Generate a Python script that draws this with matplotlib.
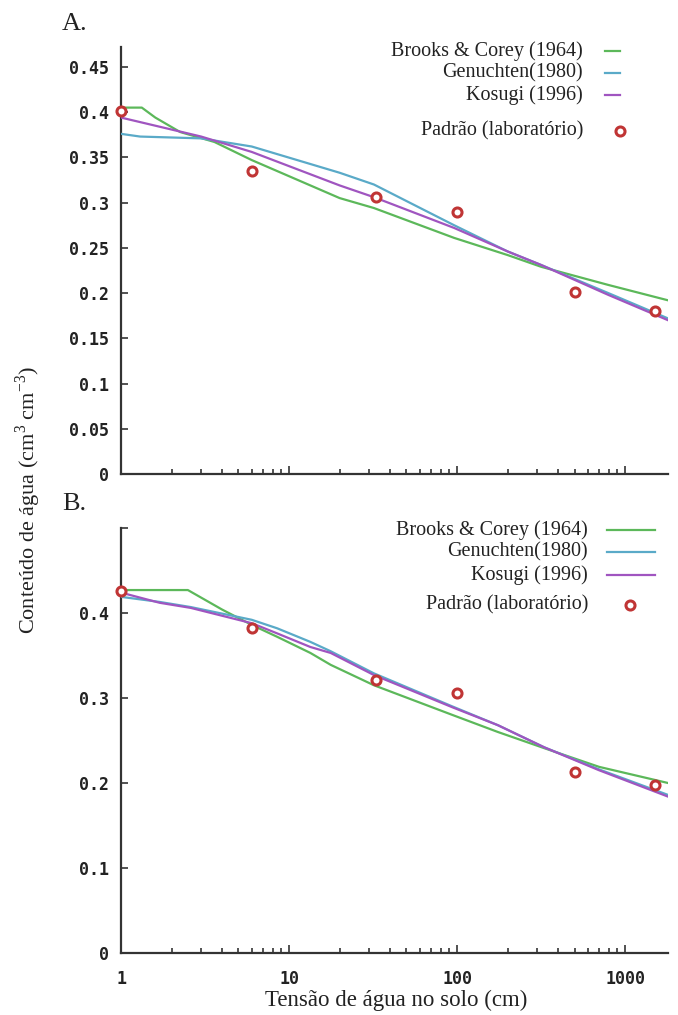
# Curvas de retenção de água no solo: modelos ajustados x dados de laboratório
import matplotlib
matplotlib.use('Agg')
import matplotlib.pyplot as plt
from matplotlib.lines import Line2D
from matplotlib.ticker import FixedLocator, FixedFormatter, LogLocator, NullFormatter

plt.rcParams['font.family'] = ['Liberation Serif', 'DejaVu Serif']
plt.rcParams['mathtext.fontset'] = 'custom'
plt.rcParams['mathtext.rm'] = 'Liberation Serif'

# ---- Painel A ----
tensao_bc_A = [1, 1.33, 1.6, 2.25, 3.6, 6, 20, 32, 96, 200, 317, 794, 1800]
theta_bc_A = [0.405, 0.405, 0.394, 0.378, 0.367, 0.347, 0.305, 0.294, 0.261, 0.242, 0.229, 0.209, 0.192]
tensao_vg_A = [1, 1.3, 3, 6, 20, 32, 96, 200, 317, 794, 1800]
theta_vg_A = [0.376, 0.373, 0.371, 0.362, 0.333, 0.320, 0.275, 0.246, 0.231, 0.200, 0.172]
tensao_ks_A = [1, 3, 6, 20, 32, 96, 200, 317, 794, 1800]
theta_ks_A = [0.394, 0.373, 0.356, 0.319, 0.306, 0.272, 0.246, 0.231, 0.198, 0.170]
tensao_lab_A = [1, 6, 33, 100, 500, 1500]
theta_lab_A = [0.401, 0.335, 0.306, 0.290, 0.201, 0.180]

# ---- Painel B ----
tensao_bc_B = [1, 2.5, 4, 6, 8.5, 13.4, 17.7, 32, 94, 175, 330, 700, 1800]
theta_bc_B = [0.427, 0.427, 0.404, 0.386, 0.372, 0.353, 0.339, 0.315, 0.280, 0.260, 0.241, 0.219, 0.200]
tensao_vg_B = [1, 1.7, 2.6, 6, 8.5, 13.4, 17.7, 32, 94, 175, 330, 700, 1800]
theta_vg_B = [0.419, 0.413, 0.407, 0.392, 0.382, 0.366, 0.355, 0.329, 0.290, 0.268, 0.242, 0.216, 0.186]
tensao_ks_B = [1, 1.7, 2.6, 6, 8.5, 13.4, 17.7, 32, 94, 175, 330, 700, 1800]
theta_ks_B = [0.424, 0.412, 0.406, 0.388, 0.376, 0.360, 0.353, 0.327, 0.289, 0.268, 0.242, 0.215, 0.184]
tensao_lab_B = [1, 6, 33, 100, 500, 1500]
theta_lab_B = [0.426, 0.382, 0.321, 0.306, 0.213, 0.198]

nomes = ['Brooks & Corey (1964)', 'Genuchten(1980)', 'Kosugi (1996)', 'Padrão (laboratório)']
cor_bc = '#5cb85a'
cor_vg = '#5aaac8'
cor_ks = '#a055c0'
cor_lab = '#c03535'

yticks_A = [0, 0.05, 0.1, 0.15, 0.2, 0.25, 0.3, 0.35, 0.4, 0.45]
ylabels_A = ['0', '0.05', '0.1', '0.15', '0.2', '0.25', '0.3', '0.35', '0.4', '0.45']
yticks_B = [0, 0.1, 0.2, 0.3, 0.4, 0.5]
ylabels_B = ['0', '0.1', '0.2', '0.3', '0.4', '']
xticks = [1, 10, 100, 1000]
xlabels = ['1', '10', '100', '1000']

W, H = 678, 1015
fig = plt.figure(figsize=(W / 100, H / 100), dpi=100)

def px(x, y):
    return x / W, 1 - y / H

axA = fig.add_axes([121 / W, 1 - 474 / H, 547 / W, 427 / H])
axB = fig.add_axes([121 / W, 1 - 953 / H, 547 / W, 425 / H])

fonte_ticks = dict(family='DejaVu Sans Mono', weight='bold', size=12)

def estilo(ax, yt, yl, ymax, mostra_x):
    ax.set_xscale('log')
    ax.set_xlim(1, 1800)
    ax.set_ylim(0, ymax)
    for s in ['top', 'right']:
        ax.spines[s].set_visible(False)
    for s in ['left', 'bottom']:
        ax.spines[s].set_color('#333333')
        ax.spines[s].set_linewidth(1.6)
    ax.yaxis.set_major_locator(FixedLocator(yt))
    ax.yaxis.set_major_formatter(FixedFormatter(yl))
    ax.xaxis.set_major_locator(FixedLocator(xticks))
    ax.xaxis.set_minor_locator(LogLocator(base=10, subs=range(2, 10)))
    ax.xaxis.set_minor_formatter(NullFormatter())
    if mostra_x:
        ax.xaxis.set_major_formatter(FixedFormatter(xlabels))
    else:
        ax.xaxis.set_major_formatter(NullFormatter())
    ax.tick_params(axis='y', direction='in', length=5, width=1.2, color='#333333', pad=9)
    ax.tick_params(axis='x', which='major', direction='in', length=6, width=1.2, color='#333333', pad=12)
    ax.tick_params(axis='x', which='minor', direction='in', length=3.5, width=1.2, color='#333333')
    for lab in ax.get_xticklabels() + ax.get_yticklabels():
        lab.set_fontproperties(fonte_ticks)
        lab.set_color('#222222')

def curvas(ax, bc, vg, ks, lab):
    ax.plot(bc[0], bc[1], color=cor_bc, lw=1.6, zorder=3)
    ax.plot(vg[0], vg[1], color=cor_vg, lw=1.6, zorder=3)
    ax.plot(ks[0], ks[1], color=cor_ks, lw=1.6, zorder=4)
    ax.plot(lab[0], lab[1], 'o', mfc='white', mec=cor_lab, mew=2.2, ms=6.5, zorder=5, clip_on=False)

curvas(axA, (tensao_bc_A, theta_bc_A), (tensao_vg_A, theta_vg_A),
       (tensao_ks_A, theta_ks_A), (tensao_lab_A, theta_lab_A))
curvas(axB, (tensao_bc_B, theta_bc_B), (tensao_vg_B, theta_vg_B),
       (tensao_ks_B, theta_ks_B), (tensao_lab_B, theta_lab_B))

estilo(axA, yticks_A, ylabels_A, 0.472, False)
estilo(axB, yticks_B, ylabels_B, 0.5, True)

# legendas desenhadas a mao (texto alinhado a direita)
def legenda(x_txt, linhas_y, x0, x1, y_lab, x_mk):
    cores = [cor_bc, cor_vg, cor_ks]
    for nome, cor, y in zip(nomes[:3], cores, linhas_y):
        fig.text(*px(x_txt, y), nome, ha='right', va='center', fontsize=14.5, color='#222222')
        fig.add_artist(Line2D([x0 / W, x1 / W], [1 - y / H, 1 - y / H], color=cor, lw=1.6))
    fig.text(*px(x_txt, y_lab), nomes[3], ha='right', va='center', fontsize=14.5, color='#222222')
    fig.add_artist(Line2D([x_mk / W], [1 - y_lab / H], marker='o', mfc='white',
                          mec=cor_lab, mew=2.2, ms=6.5, ls='none'))

legenda(583, [51, 73, 95], 605, 620, 131, 620)
legenda(588, [530, 552, 575], 607, 655, 605, 630)

fig.text(*px(62, 30), 'A.', fontsize=19, ha='left', va='baseline', color='#222222')
fig.text(*px(62, 510), 'B.', fontsize=19, ha='left', va='baseline', color='#222222')

fig.text(*px(28, 500), 'Conteúdo de água (cm$^{3}$ cm$^{-3}$)', rotation=90,
         ha='center', va='center', fontsize=16, color='#222222')
fig.text(*px(396, 1000), 'Tensão de água no solo (cm)', ha='center', va='center',
         fontsize=16.5, color='#222222')

fig.savefig('out.png', dpi=100)
